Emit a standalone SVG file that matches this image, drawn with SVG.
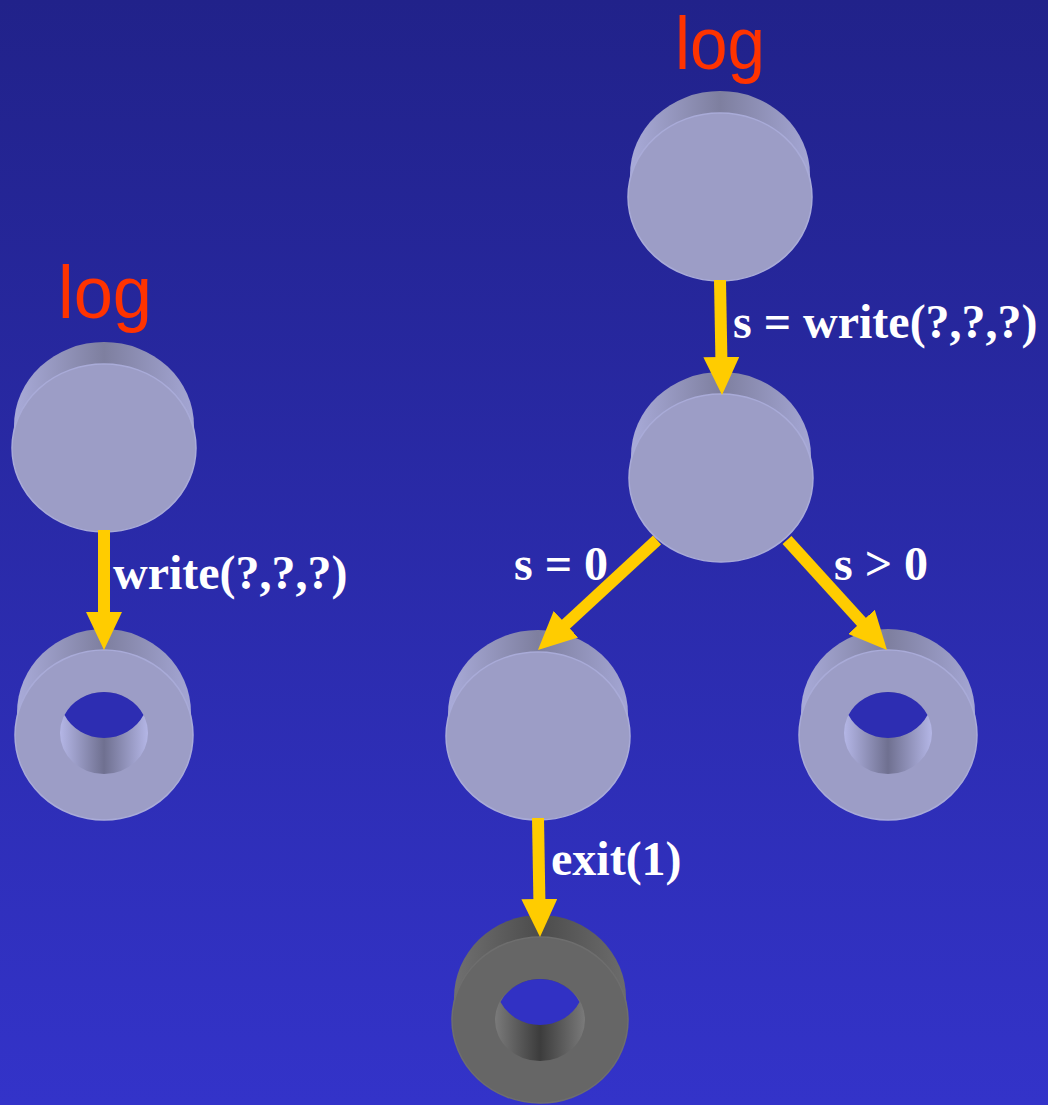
<svg xmlns="http://www.w3.org/2000/svg" xmlns:xlink="http://www.w3.org/1999/xlink" width="1048" height="1105" viewBox="0 0 1048 1105">
<style>
.lbl{font-family:"Liberation Serif","Times New Roman",serif;font-weight:bold;font-size:48px;fill:#ffffff}
.log{font-family:"Liberation Sans",Arial,sans-serif;font-size:74px;fill:#ff3300}
.conn{stroke:#ffcc00;stroke-width:12;fill:none;marker-end:url(#head)}
.face{fill:#9c9dc6;stroke:#a9abd8;stroke-width:1.5}
.gface{fill:#666666;stroke:#6e6e6e;stroke-width:1.5}
</style>
<defs>
<linearGradient id="bg" x1="0" y1="0" x2="0" y2="1">
<stop offset="0" stop-color="#21228a"/>
<stop offset="1" stop-color="#3333c9"/>
</linearGradient>
<linearGradient id="side" x1="0" y1="0" x2="1" y2="0">
<stop offset="0" stop-color="#a9abd9"/>
<stop offset="0.5" stop-color="#7e7f9f"/>
<stop offset="1" stop-color="#a4a6d4"/>
</linearGradient>
<linearGradient id="inner" x1="0" y1="0" x2="1" y2="0">
<stop offset="0" stop-color="#b4b6e6"/>
<stop offset="0.5" stop-color="#6f7090"/>
<stop offset="1" stop-color="#b4b6e6"/>
</linearGradient>
<linearGradient id="gside" x1="0" y1="0" x2="1" y2="0">
<stop offset="0" stop-color="#707070"/>
<stop offset="0.5" stop-color="#4c4c4c"/>
<stop offset="1" stop-color="#6c6c6c"/>
</linearGradient>
<linearGradient id="ginner" x1="0" y1="0" x2="1" y2="0">
<stop offset="0" stop-color="#7a7a7a"/>
<stop offset="0.5" stop-color="#3c3c3c"/>
<stop offset="1" stop-color="#7a7a7a"/>
</linearGradient>
<marker id="head" viewBox="0 0 38 36" refX="8" refY="18" markerWidth="38" markerHeight="36" markerUnits="userSpaceOnUse" orient="auto">
<path d="M0,0 L38,18 L0,36 Z" fill="#ffcc00"/>
</marker>
<g id="disk">
<ellipse cx="0" cy="-22" rx="90" ry="84" fill="url(#side)"/>
<polygon points="-90,-22 90,-22 92,0 -92,0" fill="url(#side)"/>
<ellipse class="face" cx="0" cy="0" rx="92" ry="84"/>
</g>
<g id="ring">
<ellipse cx="0" cy="-22" rx="87" ry="84" fill="url(#side)"/>
<polygon points="-87,-22 87,-22 89,0 -89,0" fill="url(#side)"/>
<ellipse class="face" cx="0" cy="0" rx="89" ry="85"/>
<ellipse cx="0" cy="-2" rx="44" ry="41" fill="url(#inner)"/>
</g>
<g id="gring">
<ellipse cx="0" cy="-22" rx="86" ry="83" fill="url(#gside)"/>
<polygon points="-86,-22 86,-22 88,0 -88,0" fill="url(#gside)"/>
<ellipse class="gface" cx="0" cy="0" rx="88" ry="83"/>
<ellipse cx="0" cy="0" rx="45" ry="41" fill="url(#ginner)"/>
</g>
<path id="thru" d="M-39.5,-20 A44 41 0 0 1 39.5,-20 A44 41 0 0 1 -39.5,-20 Z"/>
</defs>
<rect x="0" y="0" width="1048" height="1105" fill="url(#bg)"/>

<g id="node-log-left">
<text class="log" x="58" y="318" textLength="94" lengthAdjust="spacingAndGlyphs">log</text>
<use xlink:href="#disk" transform="translate(104,448)"/>
</g>
<g id="node-left-ring">
<use xlink:href="#ring" transform="translate(104,735)"/>
<use xlink:href="#thru" transform="translate(104,735)" fill="#2d2db2"/>
</g>
<g id="node-log-right">
<text class="log" x="675" y="69" textLength="90" lengthAdjust="spacingAndGlyphs">log</text>
<use xlink:href="#disk" transform="translate(720,197)"/>
</g>
<g id="node-mid">
<use xlink:href="#disk" transform="translate(721,478)"/>
</g>
<g id="node-s0">
<use xlink:href="#disk" transform="translate(538,736)"/>
</g>
<g id="node-right-ring">
<use xlink:href="#ring" transform="translate(888,735)"/>
<use xlink:href="#thru" transform="translate(888,735)" fill="#2d2db2"/>
</g>
<g id="node-exit-ring">
<use xlink:href="#gring" transform="translate(540,1020)"/>
<use xlink:href="#thru" transform="translate(540,1022)" fill="#3131c4"/>
</g>

<g id="connectors">
<line class="conn" x1="720" y1="280" x2="721.5" y2="365"/>
<line class="conn" x1="104" y1="530" x2="104" y2="620"/>
<line class="conn" x1="657" y1="540" x2="560" y2="629.6"/>
<line class="conn" x1="787" y1="540" x2="866.8" y2="627.8"/>
<line class="conn" x1="538" y1="818" x2="539.5" y2="907"/>
</g>

<g id="labels">
<text class="lbl" x="733" y="338">s = write(?,?,?)</text>
<text class="lbl" x="113" y="589">write(?,?,?)</text>
<text class="lbl" x="514" y="580">s = 0</text>
<text class="lbl" x="834" y="580">s &gt; 0</text>
<text class="lbl" x="551" y="875">exit(1)</text>
</g>
</svg>
